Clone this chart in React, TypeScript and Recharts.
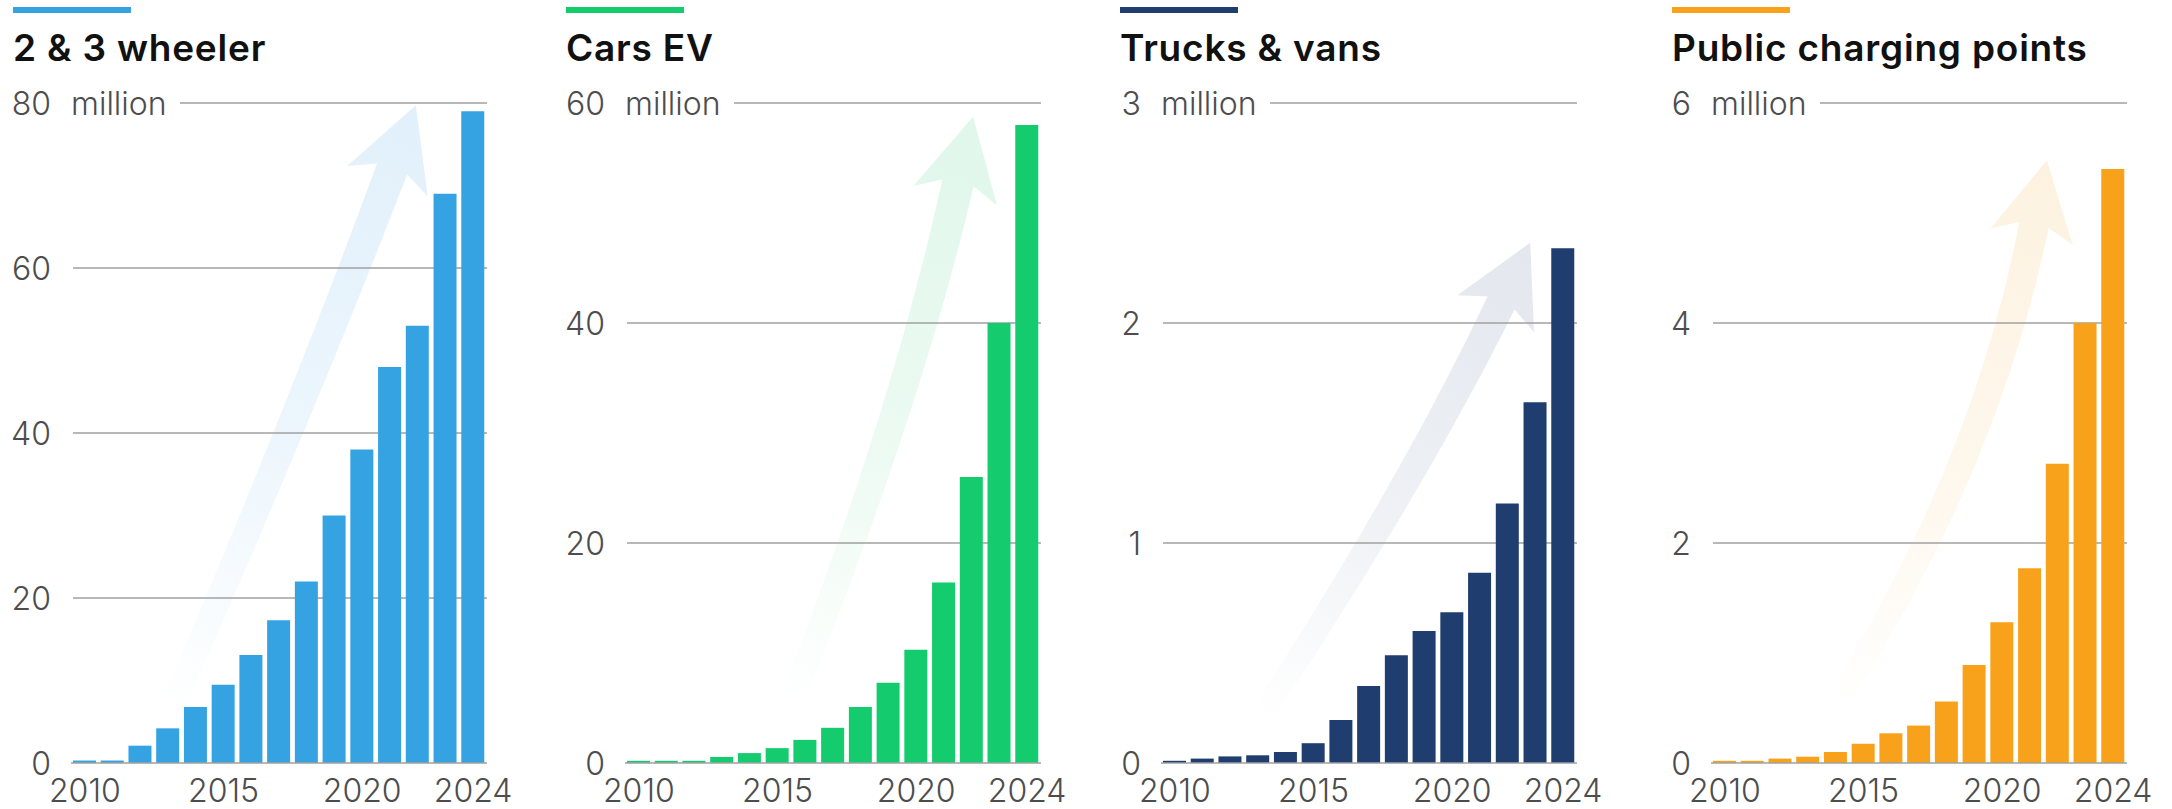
import React from 'react';
import { BarChart, Bar, XAxis, YAxis, CartesianGrid } from 'recharts';

const years = [2010, 2011, 2012, 2013, 2014, 2015, 2016, 2017, 2018, 2019, 2020, 2021, 2022, 2023, 2024];
const xTickYears = [2010, 2015, 2020, 2024];

const twoThreeWheeler = [0.3, 0.3, 2.1, 4.2, 6.8, 9.5, 13.1, 17.3, 22, 30, 38, 48, 53, 69, 79];
const carsEV = [0.2, 0.2, 0.2, 0.55, 0.9, 1.35, 2.1, 3.2, 5.1, 7.3, 10.3, 16.4, 26, 40, 58];
const trucksVans = [0.01, 0.02, 0.03, 0.035, 0.05, 0.09, 0.195, 0.35, 0.49, 0.6, 0.685, 0.865, 1.18, 1.64, 2.34];
const chargingPoints = [0.02, 0.02, 0.04, 0.057, 0.1, 0.175, 0.27, 0.34, 0.56, 0.89, 1.28, 1.77, 2.72, 4.0, 5.4];

const titles = ['2 & 3 wheeler', 'Cars EV', 'Trucks & vans', 'Public charging points'];
const ticks1 = [0, 20, 40, 60, 80];
const ticks2 = [0, 20, 40, 60];
const ticks3 = [0, 1, 2, 3];
const ticks4 = [0, 2, 4, 6];
const unitLabel = 'million';

type Pt = [number, number];
interface ArrowGeo { S: Pt; C: Pt; E: Pt; tipLen: number; w: number; hw: number; back: number }
interface Panel {
  title: string; values: number[]; ticks: number[]; color: string; arrowColor: string;
  plotLeft: number; titleX: number; arrow: ArrowGeo;
}

const PLOT_TOP = 103;
const PLOT_BOTTOM = 763;
const PLOT_W = 416;
const AXIS_W = 75;
const RIGHT_PAD = 44;
const CHART_W = AXIS_W + PLOT_W + RIGHT_PAD;
const FONT = 'Inter, "Noto Sans", "DejaVu Sans", sans-serif';
const TEXT_GREY = '#4d4d4d';
const GRID = '#a0a0a0';

const panels: Panel[] = [
  {
    title: titles[0], values: twoThreeWheeler, ticks: ticks1, color: '#35A3E2', arrowColor: '#E1F0FB',
    plotLeft: 71, titleX: 13,
    arrow: { S: [170, 712], C: [304, 404], E: [392, 169], tipLen: 68, w: 32, hw: 86, back: 13 },
  },
  {
    title: titles[1], values: carsEV, ticks: ticks2, color: '#14CC6E', arrowColor: '#E0F7EA',
    plotLeft: 625, titleX: 566,
    arrow: { S: [790, 705], C: [905, 416], E: [958, 183], tipLen: 68, w: 32, hw: 86, back: 13 },
  },
  {
    title: titles[2], values: trucksVans, ticks: ticks3, color: '#1F3E6F', arrowColor: '#E3E7EE',
    plotLeft: 1161, titleX: 1120,
    arrow: { S: [1262, 715], C: [1414, 483], E: [1501, 303], tipLen: 67, w: 30, hw: 85, back: 12 },
  },
  {
    title: titles[3], values: chargingPoints, ticks: ticks4, color: '#F8A21C', arrowColor: '#FDF2E0',
    plotLeft: 1711, titleX: 1672,
    arrow: { S: [1835, 705], C: [1985, 470], E: [2034, 225], tipLen: 66, w: 30, hw: 84, back: 12 },
  },
];

function arrowPath(a: ArrowGeo): { d: string; tip: Pt } {
  const { S, C, E, tipLen, w, hw, back } = a;
  const N = 40;
  const left: Pt[] = [];
  const right: Pt[] = [];
  let lastD: Pt = [0, -1];
  for (let i = 0; i <= N; i++) {
    const t = i / N;
    const px = (1 - t) * (1 - t) * S[0] + 2 * (1 - t) * t * C[0] + t * t * E[0];
    const py = (1 - t) * (1 - t) * S[1] + 2 * (1 - t) * t * C[1] + t * t * E[1];
    let dx = 2 * (1 - t) * (C[0] - S[0]) + 2 * t * (E[0] - C[0]);
    let dy = 2 * (1 - t) * (C[1] - S[1]) + 2 * t * (E[1] - C[1]);
    const len = Math.hypot(dx, dy) || 1;
    dx /= len; dy /= len;
    lastD = [dx, dy];
    const nx = dy, ny = -dx;
    const half = (w / 2) * (0.75 + 0.25 * t);
    left.push([px + nx * half, py + ny * half]);
    right.push([px - nx * half, py - ny * half]);
  }
  const [dx, dy] = lastD;
  const nx = dy, ny = -dx;
  const wingL: Pt = [E[0] + nx * hw / 2 - dx * back, E[1] + ny * hw / 2 - dy * back];
  const wingR: Pt = [E[0] - nx * hw / 2 - dx * back, E[1] - ny * hw / 2 - dy * back];
  const tip: Pt = [E[0] + dx * tipLen, E[1] + dy * tipLen];
  const pts: Pt[] = [...left, wingL, tip, wingR, ...right.reverse()];
  const d = pts.map((p, i) => `${i === 0 ? 'M' : 'L'}${p[0].toFixed(1)},${p[1].toFixed(1)}`).join(' ') + ' Z';
  return { d, tip };
}

function Decorations() {
  return (
    <svg width={2172} height={809} style={{ position: 'absolute', left: 0, top: 0 }}>
      <defs>
        {panels.map((p, i) => {
          const { tip } = arrowPath(p.arrow);
          return (
            <linearGradient key={i} id={`ag${i}`} gradientUnits="userSpaceOnUse"
              x1={p.arrow.S[0]} y1={p.arrow.S[1]} x2={tip[0]} y2={tip[1]}>
              <stop offset="0" stopColor={p.arrowColor} stopOpacity={0} />
              <stop offset="0.45" stopColor={p.arrowColor} stopOpacity={0.6} />
              <stop offset="1" stopColor={p.arrowColor} stopOpacity={1} />
            </linearGradient>
          );
        })}
      </defs>
      {panels.map((p, i) => (
        <g key={i}>
          <rect x={p.titleX} y={7} width={118} height={6} fill={p.color} />
          <text x={p.titleX} y={61} fontFamily={FONT} fontWeight={600} fontSize={37} letterSpacing={0.8}
            fill="#111">{p.title}</text>
          <path d={arrowPath(p.arrow).d} fill={`url(#ag${i})`} />
        </g>
      ))}
    </svg>
  );
}

function PanelChart({ p }: { p: Panel }) {
  const data = years.map((year, i) => ({ year, v: p.values[i] }));
  const max = p.ticks[p.ticks.length - 1];
  const renderYTick = (props: any) => {
    const { y, payload } = props;
    const isTop = payload.value === max;
    return (
      <g>
        <text x={AXIS_W - 20} y={y} dy={11.5} textAnchor="end" fontFamily={FONT} fontWeight={300}
          fontSize={32} fill={TEXT_GREY}>{payload.value}</text>
        {isTop && (
          <text x={AXIS_W} y={y} dy={11.5} textAnchor="start" fontFamily={FONT} fontWeight={300}
            fontSize={32} fill={TEXT_GREY}>{unitLabel}</text>
        )}
      </g>
    );
  };
  const renderXTick = (props: any) => {
    const { x, payload } = props;
    if (!xTickYears.includes(payload.value)) return <g />;
    return (
      <text x={x} y={PLOT_BOTTOM + 39} textAnchor="middle" fontFamily={FONT} fontWeight={300}
        fontSize={32} fill={TEXT_GREY}>{payload.value}</text>
    );
  };
  const renderGrid = (props: any) => {
    const { x1, x2, y1, y2 } = props;
    if (Math.abs(y1 - PLOT_BOTTOM) < 1) return <g />;
    const isTop = Math.abs(y1 - PLOT_TOP) < 1;
    return <line x1={isTop ? x1 + 109 : x1 + 2} x2={x2} y1={y1} y2={y2} stroke={GRID} strokeWidth={1.4} />;
  };
  return (
    <div style={{ position: 'absolute', left: p.plotLeft - AXIS_W, top: 0 }}>
      <BarChart width={CHART_W} height={809} data={data}
        margin={{ top: PLOT_TOP, right: RIGHT_PAD, bottom: 6, left: 0 }}>
        <CartesianGrid vertical={false} horizontal={renderGrid} />
        <YAxis width={AXIS_W} domain={[0, max]} ticks={p.ticks} type="number" axisLine={false}
          tickLine={false} tick={renderYTick} interval={0} allowDataOverflow />
        <XAxis dataKey="year" height={40} interval={0} tickLine={false}
          axisLine={{ stroke: GRID, strokeWidth: 1.4 }} tick={renderXTick} />
        <Bar dataKey="v" fill={p.color} barSize={23} isAnimationActive={false} />
      </BarChart>
    </div>
  );
}

export default function App() {
  return (
    <div style={{ position: 'absolute', left: 0, top: 0, width: 2172, height: 809, background: '#fff' }}>
      <Decorations />
      {panels.map((p, i) => <PanelChart key={i} p={p} />)}
    </div>
  );
}
